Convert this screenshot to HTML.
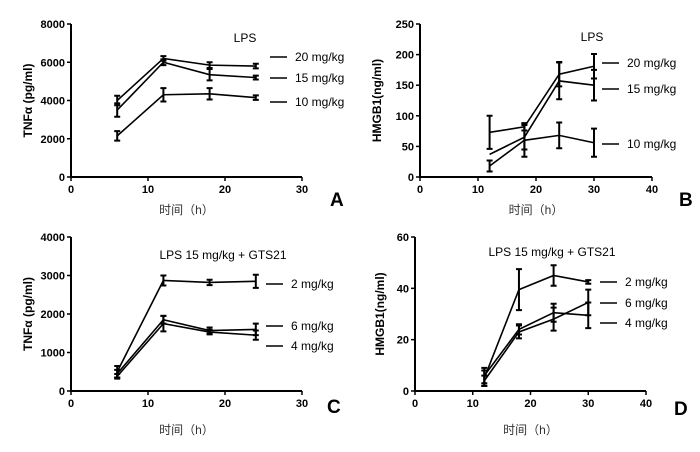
<!DOCTYPE html>
<html><head><meta charset="utf-8"><style>
body{margin:0;background:#fff}
svg text{font-family:"Liberation Sans","Noto Sans CJK SC",sans-serif}
</style></head><body>
<svg id="c" width="700" height="447" viewBox="0 0 700 447" xmlns="http://www.w3.org/2000/svg"></svg>
<script>
// Panel A data (TNFa, LPS)
const timesA = [6, 12, 18, 24];
const a20 = [4000, 6200, 5850, 5800];
const a20e = [250, 120, 150, 120];
const a15 = [3500, 6000, 5350, 5200];
const a15e = [350, 150, 300, 100];
const a10 = [2150, 4300, 4350, 4150];
const a10e = [250, 350, 300, 120];
// Panel B data (HMGB1, LPS)
const timesB = [12, 18, 24, 30];
const b20 = [73, 82, 168, 181];
const b20e = [27, 6, 20, 20];
const b15 = [37, 65, 157, 150];
const b15e = [0, 20, 30, 25];
const b10 = [18, 60, 68, 56];
const b10e = [9, 27, 21, 23];
// Panel C data
const timesC = [6, 12, 18, 24];
const c2 = [500, 2870, 2820, 2850];
const c2e = [150, 130, 70, 170];
const c6 = [450, 1850, 1570, 1600];
const c6e = [100, 100, 80, 150];
const c4 = [380, 1750, 1530, 1450];
const c4e = [60, 200, 60, 120];
// Panel D data
const timesD = [12, 18, 24, 30];
const d2 = [5, 39.5, 45, 42.5];
const d2e = [3, 8, 4, 0.7];
const d6 = [6, 24, 30.5, 29.5];
const d6e = [3, 2, 3.5, 5];
const d4 = [4, 23, 28, 34.5];
const d4e = [2, 2.5, 4.5, 5];

const svg = document.getElementById('c');
const NS = 'http://www.w3.org/2000/svg';
function mk(tag, attrs, parent, text) {
  const e = document.createElementNS(NS, tag);
  for (const k in attrs) e.setAttribute(k, attrs[k]);
  if (text !== undefined) e.textContent = text;
  (parent || svg).appendChild(e);
  return e;
}

function panel(p) {
  const g = mk('g', {});
  
  
  const sx = v => p.x0 + (v - p.xmin) / (p.xmax - p.xmin) * (p.x1 - p.x0);
  const sy = v => p.y0 - (v - p.ymin) / (p.ymax - p.ymin) * (p.y0 - p.y1);
  const ax = mk('path', {d: `M${p.x0} ${p.y1}V${p.y0}H${p.x1}`, fill: 'none', stroke: '#000', 'stroke-width': 2}, g);
  
  
  p.xt.forEach(t => {
    mk('line', {x1: sx(t), x2: sx(t), y1: p.y0, y2: p.y0 + 4, stroke: '#000', 'stroke-width': 1.5}, g);
    const tl = mk('text', {x: sx(t), y: p.y0 + 16, 'text-anchor': 'middle', 'font-size': 11, 'font-weight': 'bold'}, g, t);
    
    
  });
  p.yt.forEach(t => {
    mk('line', {x1: p.x0 - 4, x2: p.x0, y1: sy(t), y2: sy(t), stroke: '#000', 'stroke-width': 1.5}, g);
    const tl = mk('text', {x: p.x0 - 6, y: sy(t) + 4, 'text-anchor': 'end', 'font-size': 11, 'font-weight': 'bold'}, g, t);
    
    
  });
  const yt = mk('text', {x: p.ytx, y: (p.y0 + p.y1) / 2, transform: `rotate(-90 ${p.ytx} ${(p.y0 + p.y1) / 2})`, 'text-anchor': 'middle', 'font-size': 12, 'font-weight': 'bold'}, g, p.ytitle);
  
  
  const xt = mk('text', {x: (p.x0 + p.x1) / 2, y: p.xty, 'text-anchor': 'middle', 'font-size': 12, fill: '#333', 'font-family': '"Noto Serif CJK SC",serif'}, g, '时间（h）');
  
  
  const tt = mk('text', {x: p.tx, y: p.ty, 'text-anchor': 'middle', 'font-size': 12}, g, p.title);
  
  
  const lt = mk('text', {x: p.lx, y: p.ly, 'font-size': 19, 'font-weight': 'bold'}, g, p.letter);
  
  
  p.series.forEach(s => {
    const sg = mk('g', {}, g);
    
    
    const pts = p.times.map((t, i) => sx(t) + ',' + sy(s.v[i])).join(' ');
    const pl = mk('polyline', {points: pts, fill: 'none', stroke: '#000', 'stroke-width': 1.6}, sg);
    
    
    p.times.forEach((t, i) => {
      const e = s.e[i];
      if (!e) return;
      const x = sx(t), a = sy(s.v[i] + e), b = sy(s.v[i] - e);
      const eb = mk('path', {d: `M${x} ${a}V${b}M${x - 3} ${a}H${x + 3}M${x - 3} ${b}H${x + 3}`, stroke: '#000', 'stroke-width': 2, fill: 'none'}, sg);
      
      
    });
    mk('line', {x1: p.llx, x2: p.llx + 17, y1: s.ly, y2: s.ly, stroke: '#000', 'stroke-width': 1.6}, sg);
    const le = mk('text', {x: p.llx + 25, y: s.ly + 4, 'font-size': 12}, sg, s.label);
    
    
  });
}

panel({name: 'panel-a', x0: 71, x1: 302, xmin: 0, xmax: 30, y0: 177, y1: 24, ymin: 0, ymax: 8000,
  xt: [0, 10, 20, 30], yt: [0, 2000, 4000, 6000, 8000], ytx: 32, ytitle: 'TNFα (pg/ml)', xty: 214,
  title: 'LPS', tx: 245, ty: 42, letter: 'A', lx: 330, ly: 206, llx: 270, times: timesA,
  series: [{v: a20, e: a20e, label: '20 mg/kg', ly: 57}, {v: a15, e: a15e, label: '15 mg/kg', ly: 78}, {v: a10, e: a10e, label: '10 mg/kg', ly: 102}]});
panel({name: 'panel-b', x0: 420, x1: 652, xmin: 0, xmax: 40, y0: 177, y1: 24, ymin: 0, ymax: 250,
  xt: [0, 10, 20, 30, 40], yt: [0, 50, 100, 150, 200, 250], ytx: 381, ytitle: 'HMGB1(ng/ml)', xty: 214,
  title: 'LPS', tx: 592, ty: 41, letter: 'B', lx: 679, ly: 206, llx: 602, times: timesB,
  series: [{v: b20, e: b20e, label: '20 mg/kg', ly: 63}, {v: b15, e: b15e, label: '15 mg/kg', ly: 89}, {v: b10, e: b10e, label: '10 mg/kg', ly: 144}]});
panel({name: 'panel-c', x0: 71, x1: 302, xmin: 0, xmax: 30, y0: 391, y1: 237, ymin: 0, ymax: 4000,
  xt: [0, 10, 20, 30], yt: [0, 1000, 2000, 3000, 4000], ytx: 32, ytitle: 'TNFα (pg/ml)', xty: 434,
  title: 'LPS 15 mg/kg + GTS21', tx: 223, ty: 259, letter: 'C', lx: 327, ly: 413, llx: 266, times: timesC,
  series: [{v: c2, e: c2e, label: '2 mg/kg', ly: 284}, {v: c6, e: c6e, label: '6 mg/kg', ly: 326}, {v: c4, e: c4e, label: '4 mg/kg', ly: 346}]});
panel({name: 'panel-d', x0: 415, x1: 646, xmin: 0, xmax: 40, y0: 391, y1: 237, ymin: 0, ymax: 60,
  xt: [0, 10, 20, 30, 40], yt: [0, 20, 40, 60], ytx: 384, ytitle: 'HMGB1(ng/ml)', xty: 434,
  title: 'LPS 15 mg/kg + GTS21', tx: 552, ty: 256, letter: 'D', lx: 674, ly: 415, llx: 600, times: timesD,
  series: [{v: d2, e: d2e, label: '2 mg/kg', ly: 282}, {v: d6, e: d6e, label: '6 mg/kg', ly: 303}, {v: d4, e: d4e, label: '4 mg/kg', ly: 323}]});
</script>
</body></html>
